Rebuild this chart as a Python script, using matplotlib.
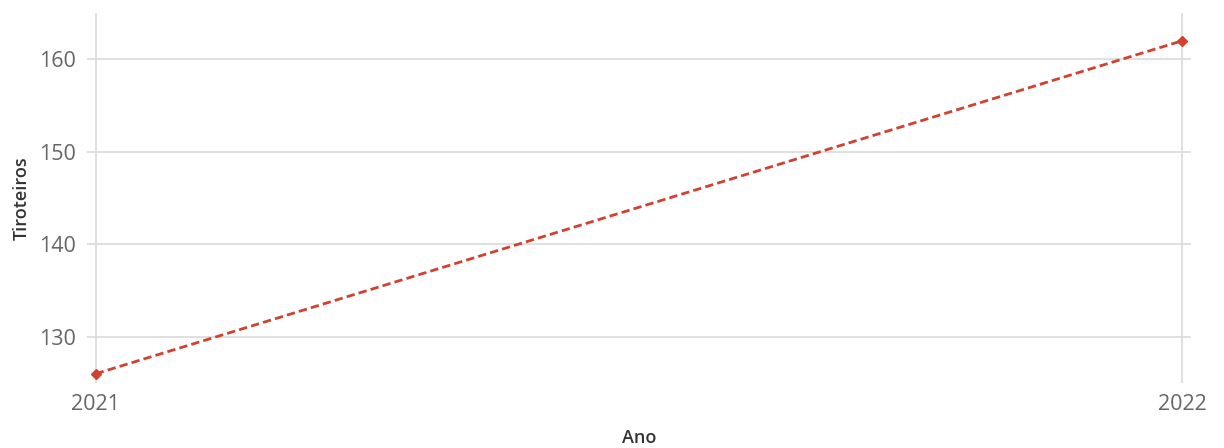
import matplotlib.pyplot as plt

anos = [2021, 2022]
tiroteios = [126, 162]
y_ticks = [130, 140, 150, 160]

plt.rcParams['font.family'] = ['Open Sans', 'DejaVu Sans']

fig = plt.figure(figsize=(12.24, 4.48), dpi=100)
ax = fig.add_axes([87 / 1224, 65 / 448, 1104 / 1224, 370 / 448])

ax.plot(anos, tiroteios, color='#D0412F', linestyle=(0, (3, 1.5)), linewidth=2,
        marker='D', markersize=5, zorder=3)

ax.set_xlim(2020.992, 2022.008)
ax.set_ylim(125, 165)
ax.set_xticks(anos)
ax.set_yticks(y_ticks)
ax.grid(True, color='#DADADA', linewidth=1.2)

for s in ax.spines.values():
    s.set_visible(False)
ax.tick_params(length=0, labelsize=15.5, colors='#666666')
ax.tick_params(axis='x', pad=8)
ax.tick_params(axis='y', pad=8)

ax.set_xlabel('Ano', fontsize=13, color='#333333', fontweight='semibold', labelpad=10)
ax.set_ylabel('Tiroteiros', fontsize=13, color='#333333', fontweight='semibold', labelpad=6)

fig.savefig('out.png', dpi=100)
